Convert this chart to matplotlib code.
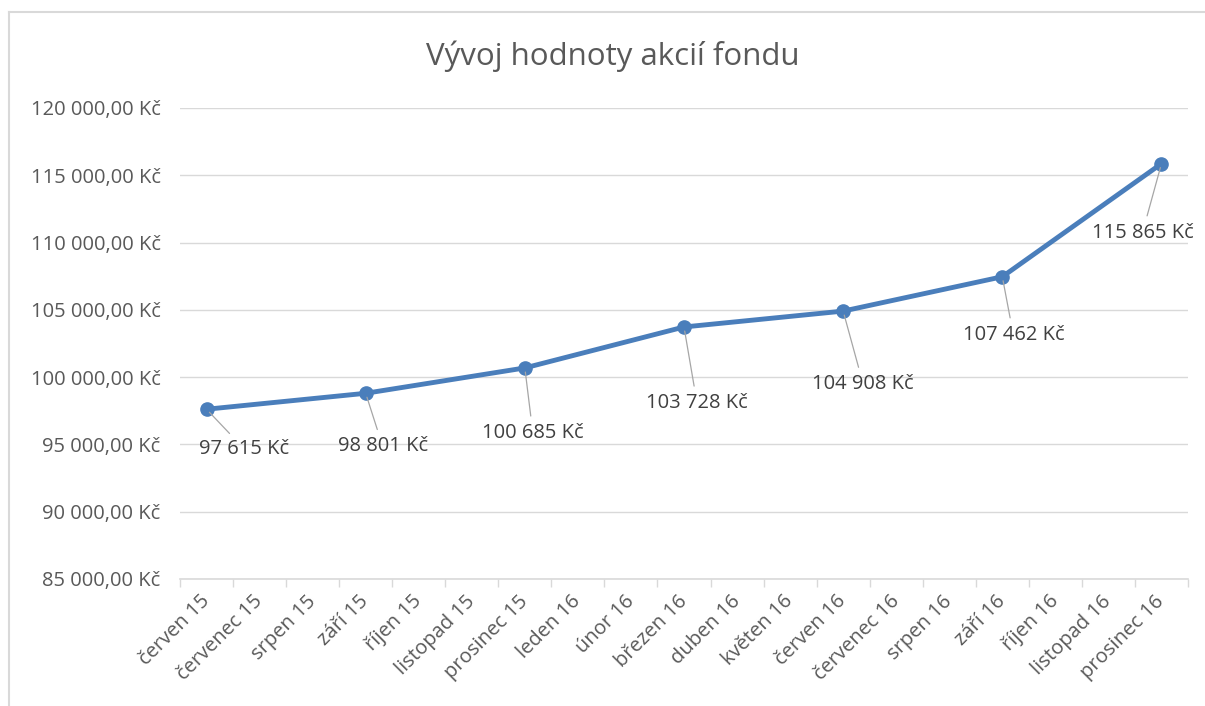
import matplotlib
matplotlib.use('Agg')
import matplotlib.pyplot as plt
from matplotlib.lines import Line2D

months = ['červen 15', 'červenec 15', 'srpen 15', 'září 15', 'říjen 15', 'listopad 15',
          'prosinec 15', 'leden 16', 'únor 16', 'březen 16', 'duben 16', 'květen 16',
          'červen 16', 'červenec 16', 'srpen 16', 'září 16', 'říjen 16', 'listopad 16',
          'prosinec 16']
point_months = ['červen 15', 'září 15', 'prosinec 15', 'březen 16', 'červen 16', 'září 16',
                'prosinec 16']
values = [97615, 98801, 100685, 103728, 104908, 107462, 115865]
# label offsets in pixels (from point)
label_offsets = [(38, -40), (17, -53), (8, -65), (13, -76), (20, -73), (11, -58), (-19, -69)]

plt.rcParams['font.family'] = ['Open Sans', 'DejaVu Sans']

W, H = 1205, 706
fig = plt.figure(figsize=(W / 100, H / 100), dpi=100)
ax = fig.add_axes([180 / W, 1 - 579 / H, (1188 - 180) / W, (579 - 108) / H])

x = [months.index(m) for m in point_months]
ax.plot(x, values, color='#4a7ebb', lw=3.5, marker='o', ms=9.5, zorder=3,
        solid_capstyle='round', solid_joinstyle='round')

def fmt(v):
    return '{:,}'.format(v).replace(',', ' ') + ' Kč'

for xi, v, (dx, dy) in zip(x, values, label_offsets):
    ax.annotate(fmt(v), (xi, v), xytext=(dx, dy), textcoords='offset pixels',
                ha='center', va='center', fontsize=14.5, color='#404040',
                arrowprops=dict(arrowstyle='-', color='#a6a6a6', lw=0.9,
                                shrinkA=3, shrinkB=3), zorder=4)

ax.set_xlim(-0.5, len(months) - 0.5)
ax.set_ylim(85000, 120000)
yt = list(range(85000, 120001, 5000))
ax.set_yticks(yt)
ax.set_yticklabels(['{:,}'.format(t).replace(',', ' ') + ',00 Kč' for t in yt],
                   fontsize=14.5, color='#595959')
ax.grid(axis='y', color='#d9d9d9', lw=1)
ax.set_axisbelow(True)

ax.set_xticks([i - 0.5 for i in range(len(months) + 1)])
ax.set_xticklabels([])
ax.set_xticks(range(len(months)), minor=True)
ax.set_xticklabels(months, minor=True, rotation=45, ha='right', va='center',
                   rotation_mode='anchor', fontsize=14.5, color='#595959')
ax.tick_params(axis='x', which='major', length=6, color='#d9d9d9', width=1)
ax.tick_params(axis='x', which='minor', length=0, pad=14)
ax.tick_params(axis='y', length=0, pad=14)

for s in ['top', 'right', 'left']:
    ax.spines[s].set_visible(False)
ax.spines['bottom'].set_color('#d9d9d9')
ax.spines['bottom'].set_linewidth(1.2)

fig.text(613 / W, 1 - 56 / H, 'Vývoj hodnoty akcií fondu', ha='center', va='center',
         fontsize=22.5, color='#595959')

# outer chart frame
fig.add_artist(Line2D([8.5 / W, 8.5 / W], [0, 1 - 11.5 / H], transform=fig.transFigure,
                      color='#d9d9d9', lw=1.5))
fig.add_artist(Line2D([8.5 / W, 1], [1 - 11.5 / H, 1 - 11.5 / H], transform=fig.transFigure,
                      color='#d9d9d9', lw=1.5))

fig.savefig('out.png', dpi=100, facecolor='white')
